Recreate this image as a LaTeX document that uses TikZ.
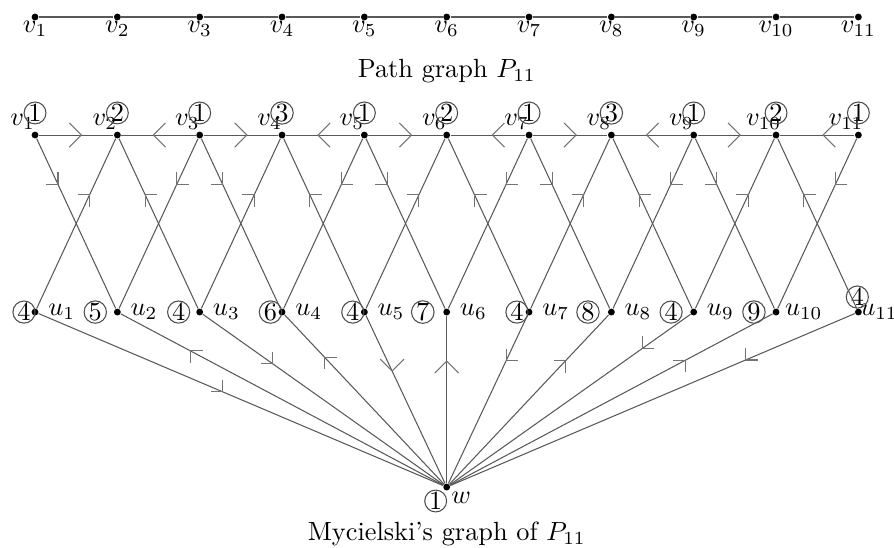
\documentclass[tikz,border=0pt]{standalone}
\usepackage{amsmath}
\usetikzlibrary{positioning}

\tikzset{
  vert/.style = {circle, fill, inner sep=0pt, minimum size=2.6pt},
  colr/.style = {circle, draw=black!70, inner sep=0pt},
  edg/.style = {black!65, line width=0.4pt},
  tipmark/.style = {black!55, line width=0.4pt},
}

\begin{document}
\begin{tikzpicture}[node distance=1.1cm, on grid]
    \useasboundingbox (-0.468,0.227) rectangle (11.476,-7.081);

    % path graph P_11
    \node[vert, label={[inner sep=0pt]below:$v_1$}] (p1) at (0,0) {};
    \foreach \i [count=\j] in {2,...,11}
        \node[vert, label={[inner sep=0pt]below:$v_{\i}$}] (p\i) [right=of p\j] {};
    \foreach \i [count=\j] in {2,...,11}
        \draw[edg] (p\j) -- (p\i);
    \node (cap1) [below=0.72cm of p6] {Path graph $P_{11}$};

    % Mycielski graph: v row
    \foreach \i/\c in {1/1,2/2,3/1,4/3,5/1,6/2,7/1,8/3,9/1,10/2,11/1} {
        \node[vert, label={[xshift=-4.7pt, yshift=5.1pt]center:$v_{\i}$}] (v\i) [below=1.577cm of p\i] {};
        \node[colr] (cv\i) [above=8.4pt of v\i] {\c};
    }

    % u row
    \foreach \i/\c/\d/\e in {1/4/4.2pt/0pt, 2/5/8.4pt/0pt, 3/4/8pt/0pt, 4/6/4.4pt/0pt, 5/4/4.4pt/0pt,
                             6/7/9.1pt/0pt, 7/4/4.6pt/0pt, 8/8/8.9pt/0pt, 9/4/8.6pt/0pt, 10/9/8.4pt/-1.6pt} {
        \node[vert, label={[label distance=\e]right:$u_{\i}$}] (u\i) [below=2.365cm of v\i] {};
        \node[colr] (cu\i) [left=\d of u\i] {\c};
    }
    \node[vert, label={[label distance=-4.3pt]right:$u_{11}$}] (u11) [below=2.365cm of v11] {};
    \node[colr] (cu11) [above left=5.7pt and 0.4pt of u11] {4};

    % w
    \node[vert, label={[inner sep=0.5pt]below right:$w$}] (w) [below=2.338cm of u6] {};
    \node[colr] (cw) [below left=5.3pt and 4.2pt of w] {1};
    \node (cap2) [below=0.63cm of w] {Mycielski's graph of $P_{11}$};

    % v--v edges
    \foreach \a/\b/\t/\r in {v1/v2/.57/0, v2/v3/.43/180, v3/v4/.58/0, v4/v5/.43/180, v5/v6/.58/0,
                             v6/v7/.56/180, v7/v8/.58/0, v8/v9/.42/180, v9/v10/.57/0, v10/v11/.58/180} {
        \draw[edg] (\a) -- coordinate[pos=\t] (m) (\b);
        \draw[tipmark] (m) +(\r+135:6.5pt) -- (m) -- +(\r-135:6.5pt);
    }

    % v--u edges
    \foreach \a/\b/\t/\r in {v1/u2/.27/-45, v2/u1/.33/45, v2/u3/.33/135, v3/u2/.27/-135, v3/u4/.27/-45,
                             v4/u3/.33/45, v4/u5/.33/135, v5/u4/.27/-135, v5/u6/.27/-45, v6/u5/.33/45,
                             v6/u7/.33/135, v7/u6/.27/-135, v7/u8/.27/-45, v8/u7/.33/45, v8/u9/.33/135,
                             v9/u8/.27/-135, v9/u10/.27/-45, v10/u9/.33/45, v10/u11/.33/135, v11/u10/.27/-135} {
        \draw[edg] (\a) -- coordinate[pos=\t] (m) (\b);
        \draw[tipmark] (m) +(\r+135:4.6pt) -- (m) -- +(\r-135:4.6pt);
    }

    % u--w edges
    \foreach \a/\t/\r/\l in {u1/.455/-45/4.6pt, u2/.216/135/4.6pt, u3/.29/-45/4.6pt, u4/.25/135/4.6pt,
                             u5/.33/-90/6.4pt, u6/.27/90/6.4pt, u7/.27/-135/4.6pt, u8/.27/45/4.6pt,
                             u9/.2/-135/4.6pt, u10/.27/45/4.6pt, u11/.27/-135/4.6pt} {
        \draw[edg] (\a) -- coordinate[pos=\t] (m) (w);
        \draw[tipmark] (m) +(\r+135:\l) -- (m) -- +(\r-135:\l);
    }
\end{tikzpicture}
\end{document}
